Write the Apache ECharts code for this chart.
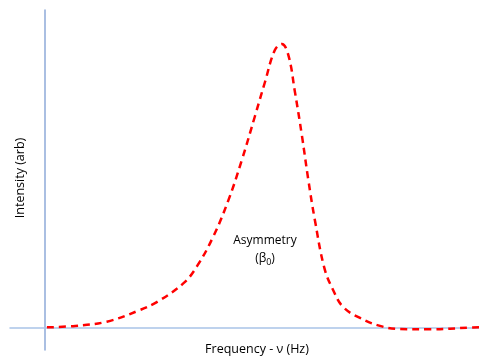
<!DOCTYPE html>
<html>
<head>
<meta charset="utf-8">
<script src="https://cdn.jsdelivr.net/npm/echarts@6/dist/echarts.min.js"></script>
<style>
  html, body { margin: 0; padding: 0; background: #ffffff; }
  #chart { width: 479px; height: 360px; }
</style>
</head>
<body>
<div id="chart"></div>
<script>
// Asymmetric resonance line shape: frequency (arb. units) vs intensity (arb.)
const frequency = [0.5, 7.0, 14.3, 21.9, 25.9, 31.9, 35.0, 38.8, 42.3, 45.4, 48.4, 50.7, 53.0, 54.6, 56.1, 57.6, 59.2, 60.7, 62.2, 64.4, 66.4, 68.7, 72.6, 77.2, 81.8, 88.7, 97.9, 100];
const intensity = [0.0, 0.005, 0.02, 0.061, 0.09, 0.155, 0.214, 0.320, 0.449, 0.591, 0.745, 0.865, 0.979, 1.0, 0.961, 0.832, 0.679, 0.520, 0.379, 0.209, 0.132, 0.072, 0.033, 0.005, -0.006, -0.007, -0.001, 0.0];

const xLabel = 'Frequency - ν (Hz)';
const yLabel = 'Intensity (arb)';

const points = frequency.map((f, i) => [f, intensity[i]]);

const chart = echarts.init(document.getElementById('chart'), null, { renderer: 'canvas' });
chart.setOption({
  animation: false,
  backgroundColor: '#ffffff',
  grid: { left: 10, right: 0, top: 10, bottom: 10, containLabel: false, outerBoundsMode: 'none' },
  xAxis: {
    type: 'value', min: -8, max: 100,
    axisLine: { show: true, onZero: true, lineStyle: { color: '#a9c3e8', width: 1.5 } },
    axisTick: { show: false }, axisLabel: { show: false }, splitLine: { show: false }
  },
  yAxis: {
    type: 'value', min: -0.08, max: 1.12,
    axisLine: { show: true, onZero: true, lineStyle: { color: '#8eaad8', width: 1.5 } },
    axisTick: { show: false }, axisLabel: { show: false }, splitLine: { show: false }
  },
  series: [{
    type: 'line',
    data: points,
    smooth: 0.4,
    showSymbol: false,
    lineStyle: { color: '#ff0000', width: 2.5, type: [7, 5] }
  }],
  graphic: [
    {
      type: 'text', x: 20, y: 178, rotation: Math.PI / 2,
      style: { text: yLabel, align: 'center', verticalAlign: 'middle', fontFamily: 'Open Sans', fontSize: 12.5, fill: '#000000' }
    },
    {
      type: 'text', x: 257, y: 349,
      style: { text: xLabel, align: 'center', verticalAlign: 'middle', fontFamily: 'Open Sans', fontSize: 12.5, fill: '#000000' }
    },
    {
      type: 'text', x: 265, y: 232,
      style: {
        text: 'Asymmetry\n(β{sub|0})',
        align: 'center', verticalAlign: 'top',
        fontFamily: 'Open Sans', fontSize: 12, fill: '#000000', lineHeight: 18,
        rich: { sub: { fontSize: 9, fontFamily: 'Open Sans', fill: '#000000', padding: [6, 0, 0, 0] } }
      }
    }
  ]
});
</script>
</body>
</html>
